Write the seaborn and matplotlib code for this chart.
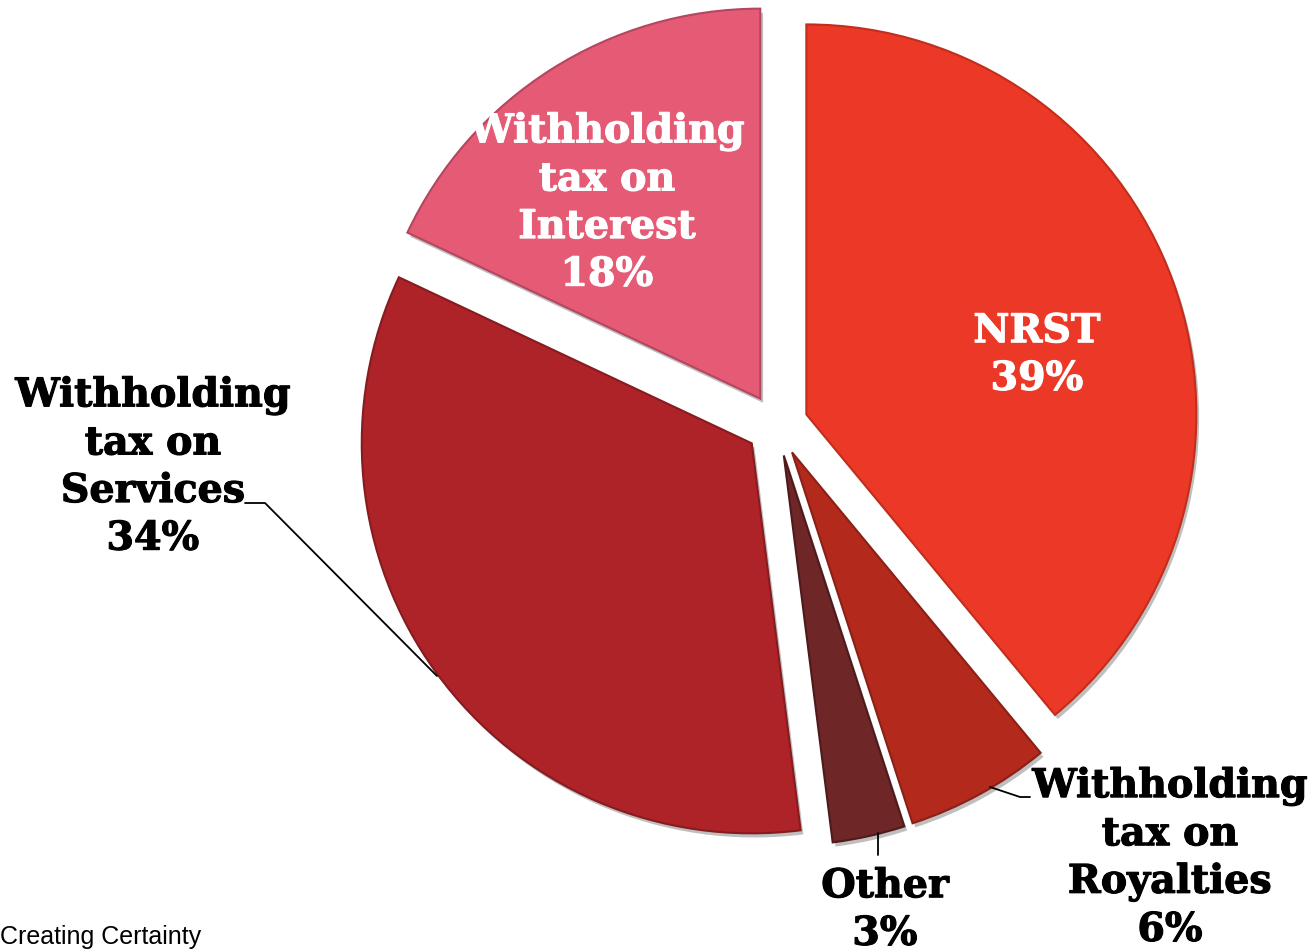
import matplotlib
matplotlib.use("Agg")
import matplotlib.pyplot as plt
import matplotlib.patheffects as pe
import seaborn as sns
import numpy as np

# ---- data ----
categories = ["NRST", "Withholding\ntax on\nRoyalties", "Other",
              "Withholding\ntax on\nServices", "Withholding\ntax on\nInterest"]
shares = [39, 6, 3, 34, 18]
colors = ["#EC3826", "#B3291C", "#6E2627", "#AE2328", "#E55A74"]
edge_colors = ["#C22E1C", "#8A2016", "#4E1A1B", "#861B20", "#B44760"]
inside = [True, False, False, False, True]

sns.set_theme(style="white")
plt.rcParams["font.family"] = ["DejaVu Serif"]

W, H, DPI = 1315, 952, 100
fig = plt.figure(figsize=(W / DPI, H / DPI), dpi=DPI)
ax = fig.add_axes([0, 0, 1, 1])

cx, cy, R = 777, 425, 390  # pixel centre and radius


def px(x, y):
    return (x - cx) / R, (cy - y) / R


wedges, _ = ax.pie(shares, colors=colors, startangle=90, counterclock=False,
                   explode=[0.08] * len(shares), radius=1.0,
                   wedgeprops=dict(linewidth=1.5))
for w, ec in zip(wedges, edge_colors):
    w.set_edgecolor(ec)
    w.set_path_effects([pe.SimplePatchShadow(offset=(2, -3), alpha=0.25,
                                             shadow_rgbFace="black"),
                        pe.Normal()])

ax.set_xlim(-cx / R, (W - cx) / R)
ax.set_ylim(-(H - cy) / R, cy / R)
ax.set_aspect("auto")
ax.axis("off")

# label layout (pixel positions of label centres)
label_pos = [(1037, 355), (1170, 858), (885, 910), (153, 467), (607, 203)]
fs = 28.5
for name, val, pos, ins in zip(categories, shares, label_pos, inside):
    x, y = px(*pos)
    col = "white" if ins else "black"
    ax.text(x, y, f"{name}\n{val}%", ha="center", va="center",
            fontsize=fs, fontweight="bold", linespacing=1.32,
            color=col, zorder=5,
            path_effects=[pe.withStroke(linewidth=0.8, foreground=col)])

# leader lines
lines = [
    [(245, 503), (265, 503), (437, 676)],
    [(1030, 797), (1020, 797), (990, 787)],
    [(878, 855), (878, 833)],
]
for pts in lines:
    xs, ys = zip(*[px(*p) for p in pts])
    ax.plot(xs, ys, color="black", lw=1.3, zorder=4)

fig.text(0.0, 0.016, "Creating Certainty", fontsize=18,
         family=["Liberation Sans", "DejaVu Sans"], color="black",
         ha="left", va="center")

fig.savefig("out.png", dpi=DPI)
